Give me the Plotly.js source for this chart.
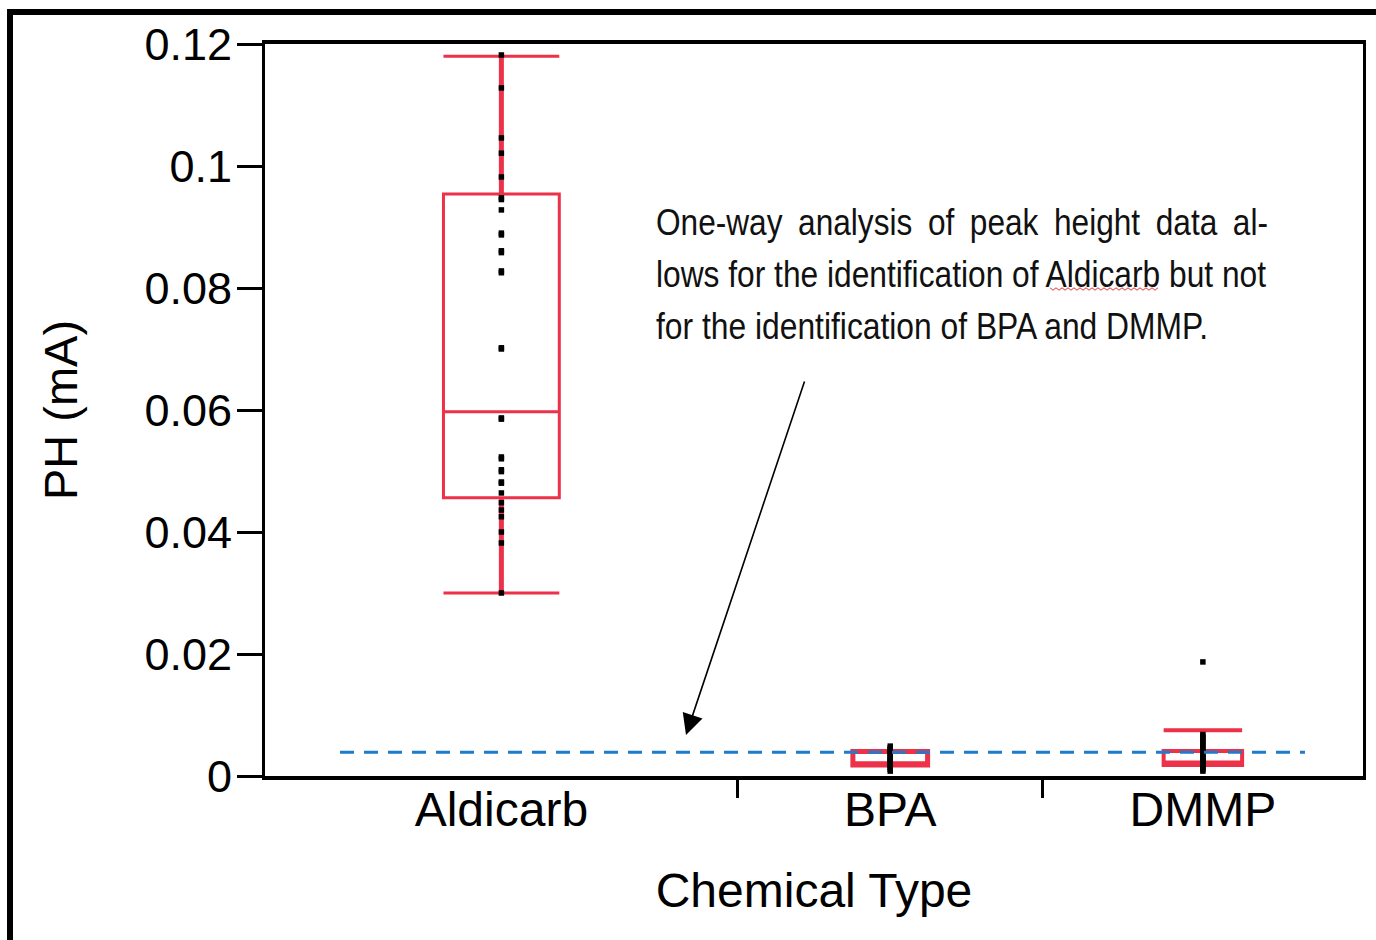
<!DOCTYPE html>
<html>
<head>
<meta charset="utf-8">
<script src="https://cdn.plot.ly/plotly-3.0.1.min.js"></script>
<style>
  html, body { margin: 0; padding: 0; background: #ffffff; }
  #chart { width: 1376px; height: 940px; }
</style>
</head>
<body>
<div id="chart"></div>
<script>
// ---- Data ----
const categories = ['Aldicarb', 'BPA', 'DMMP'];

const aldicarbPH = [0.1182, 0.1128, 0.1046, 0.1021, 0.0982, 0.0948, 0.0945, 0.0928,
  0.0890, 0.0887, 0.0861, 0.0858, 0.0828, 0.0825, 0.0702, 0.0700, 0.0587, 0.0585,
  0.0523, 0.0520, 0.0502, 0.0499, 0.0482, 0.0480, 0.0464, 0.0448, 0.0436, 0.0425,
  0.0400, 0.0382, 0.0300];
const bpaPH = [0.0049, 0.0046, 0.0044, 0.0042, 0.0040, 0.0038, 0.0036, 0.0033,
  0.0030, 0.0028, 0.0026, 0.0024, 0.0022, 0.0021, 0.0019, 0.0018, 0.0017, 0.0014,
  0.0011, 0.0008];
const dmmpPH = [0.0187, 0.0068, 0.0064, 0.0061, 0.0056, 0.0052, 0.0047, 0.0043,
  0.0040, 0.0036, 0.0033, 0.0030, 0.0027, 0.0025, 0.0023, 0.0021, 0.0019, 0.0017,
  0.0014, 0.0011, 0.0008];

const lowerFence = [0.0300, 0.0018, 0.0018];
const q1Values   = [0.0456, 0.0018, 0.0018];
const medians    = [0.0597, 0.0020, 0.0022];
const q3Values   = [0.0954, 0.0040, 0.0041];
const upperFence = [0.1180, 0.0040, 0.0075];

const referenceLevel = 0.0039;

const yTickVals = [0, 0.02, 0.04, 0.06, 0.08, 0.1, 0.12];
const yTickText = ['0', '0.02', '0.04', '0.06', '0.08', '0.1', '0.12'];

const noteLines = [
  'One-way analysis of peak height data al-',
  'lows for the identification of Aldicarb but not',
  'for the identification of BPA and DMMP.'
];

// ---- Group geometry: widths proportional to sample size (JMP style) ----
const groups = [aldicarbPH, bpaPH, dmmpPH];
const counts = groups.map(g => g.length);
const starts = [];
let acc = 0;
counts.forEach(n => { starts.push(acc); acc += n; });
const total = acc;
const centers = counts.map((n, i) => starts[i] + n / 2);
const separators = starts.slice(1);

const RED = '#EC3149';
const BOXFRAC = 0.245;
const boxLineWidths = [3, 5, 4];

const traces = [];
categories.forEach((c, i) => {
  traces.push({
    type: 'box',
    name: c,
    x: [centers[i]],
    q1: [q1Values[i]],
    median: [medians[i]],
    q3: [q3Values[i]],
    lowerfence: [lowerFence[i]],
    upperfence: [upperFence[i]],
    width: counts[i] * BOXFRAC,
    whiskerwidth: 1,
    boxpoints: false,
    line: { color: RED, width: boxLineWidths[i] },
    fillcolor: 'rgba(0,0,0,0)',
    hoverinfo: 'skip',
    showlegend: false
  });
  // heavier whisker stems, as in the original
  traces.push({
    type: 'scatter', mode: 'lines',
    x: [centers[i], centers[i], null, centers[i], centers[i]],
    y: [lowerFence[i], q1Values[i], null, q3Values[i], upperFence[i]],
    line: { color: RED, width: 5 },
    hoverinfo: 'skip', showlegend: false
  });
});
const px = [], py = [];
groups.forEach((g, i) => g.forEach(v => { px.push(centers[i]); py.push(v); }));
traces.push({
  type: 'scatter', mode: 'markers', x: px, y: py,
  marker: { symbol: 'square', size: 5.5, color: '#000000' },
  hoverinfo: 'skip', showlegend: false
});

const L = 265, R = 13, T = 44, B = 164;
const W = 1376, H = 940;
const pw = W - L - R, ph = H - T - B;
const pxToPaperX = p => (p - L) / pw;
const pyToPaperY = p => (H - B - p) / ph;

const NOTE_LEFT = 656;
const NOTE_FONT = 'Liberation Sans Narrow, Arial Narrow, Liberation Sans, Arial, sans-serif';
const noteWidths = [612, 610, 552];
const noteWordSpacing = [8, 0, 0];
const annotations = noteLines.map((t, i) => ({
  text: t, xref: 'paper', yref: 'paper',
  x: pxToPaperX(NOTE_LEFT), y: pyToPaperY(222 + 52 * i),
  xanchor: 'left', yanchor: 'middle', showarrow: false,
  font: { family: NOTE_FONT, size: 37, color: '#111' }
}));
annotations.push({
  text: '', xref: 'paper', yref: 'paper',
  x: pxToPaperX(686), y: pyToPaperY(735),
  ax: 119, ay: -355, axref: 'pixel', ayref: 'pixel',
  showarrow: true, arrowhead: 2, arrowsize: 2.6, arrowwidth: 1.6, arrowcolor: '#000'
});

// small red wavy spell-check underline under "Aldicarb"
let wave = '';
for (let k = 0; k <= 36; k++) {
  const xx = pxToPaperX(1050 + k * 3);
  const yy = pyToPaperY(289 + (k % 2 === 0 ? -1.2 : 1.2));
  wave += (k === 0 ? 'M ' : ' L ') + xx + ' ' + yy;
}

const shapes = [
  { type: 'line', xref: 'paper', yref: 'y',
    x0: pxToPaperX(340), x1: pxToPaperX(1305), y0: referenceLevel, y1: referenceLevel,
    line: { color: '#1F7BCB', width: 3, dash: '14px,10px' } },
  { type: 'path', xref: 'paper', yref: 'paper', path: wave,
    line: { color: '#E8303A', width: 1 } },
  { type: 'rect', xref: 'paper', yref: 'paper',
    x0: pxToPaperX(10), x1: pxToPaperX(1400), y0: pyToPaperY(960), y1: pyToPaperY(12),
    line: { color: '#000', width: 6 }, fillcolor: 'rgba(0,0,0,0)', layer: 'above' }
];

const FONT = 'Liberation Sans, Arial, sans-serif';
const layout = {
  width: W, height: H,
  margin: { l: L, r: R, t: T, b: B },
  paper_bgcolor: '#ffffff', plot_bgcolor: '#ffffff',
  showlegend: false,
  font: { family: FONT, color: '#000' },
  xaxis: {
    type: 'linear', range: [0, total],
    tickmode: 'array', tickvals: centers, ticktext: categories,
    ticks: '', showgrid: false, zeroline: false,
    showline: true, mirror: true, linecolor: '#000', linewidth: 4,
    tickfont: { family: FONT, size: 48, color: '#000' },
    ticklabelstandoff: -12,
    minor: { tickmode: 'array', tickvals: separators, ticks: 'outside', ticklen: 18, tickwidth: 3, tickcolor: '#000', showgrid: false },
    title: { text: 'Chemical Type', font: { family: FONT, size: 48, color: '#000' }, standoff: 40 }
  },
  yaxis: {
    range: [0, 0.12],
    tickmode: 'array', tickvals: yTickVals, ticktext: yTickText,
    ticks: 'outside', ticklen: 25, tickwidth: 3, tickcolor: '#000',
    showgrid: false, zeroline: false,
    showline: true, mirror: true, linecolor: '#000', linewidth: 3,
    tickfont: { family: FONT, size: 45, color: '#000' },
    ticklabelstandoff: -4,
    title: { text: 'PH (mA)', font: { family: FONT, size: 47, color: '#000' }, standoff: 52 }
  },
  shapes: shapes,
  annotations: annotations
};

Plotly.newPlot('chart', traces, layout, { displayModeBar: false, staticPlot: true }).then(gd => {
  // emulate the condensed, justified text block of the original note
  const texts = gd.querySelectorAll('.annotation-text');
  texts.forEach((el, i) => {
    if (i < noteWidths.length) {
      if (noteWordSpacing[i]) el.setAttribute('word-spacing', noteWordSpacing[i]);
      el.setAttribute('textLength', noteWidths[i]);
      el.setAttribute('lengthAdjust', 'spacingAndGlyphs');
      const r = el.getBoundingClientRect();
      const host = gd.getBoundingClientRect();
      const dx = (host.left + NOTE_LEFT) - r.left;
      const x0 = parseFloat(el.getAttribute('x') || '0');
      el.setAttribute('x', x0 + dx);
    }
  });
});
</script>
</body>
</html>
